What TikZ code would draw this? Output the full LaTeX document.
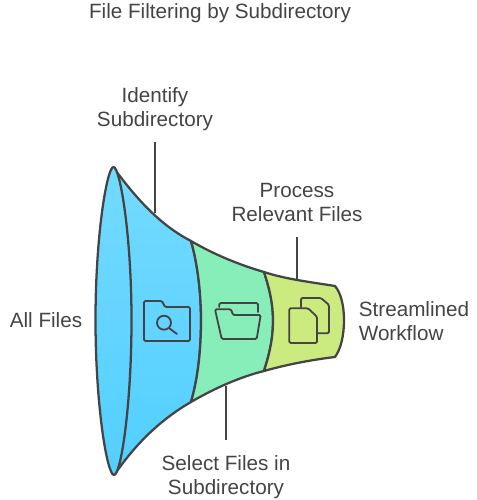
\documentclass[tikz,border=0pt]{standalone}
\usepackage{fontspec}
\setmainfont{Liberation Sans}
\definecolor{ink}{HTML}{444444}
\definecolor{blueT}{HTML}{74DAFF}
\definecolor{blueM}{HTML}{6CD7FF}
\definecolor{blueB}{HTML}{52CFFF}
\definecolor{mint}{HTML}{87EDB9}
\definecolor{lime}{HTML}{CBEA80}
\tikzset{
  outline/.style={draw=ink,line width=1.7pt,line join=round},
  funnelblue/.style={top color=blueT,middle color=blueM,bottom color=blueB},
  icon/.style={draw=ink,line width=1.35pt,line join=round,line cap=round,rounded corners=1pt},
  lbl/.style={text=ink,font=\fontsize{15.5pt}{18pt}\selectfont,align=center,inner sep=0pt},
  conn/.style={draw=ink,line width=1.5pt}
}
\begin{document}
\begin{tikzpicture}[x=0.75pt,y=-0.75pt]
\useasboundingbox (0,0) rectangle (476,500);
% body segments
\path[outline,funnelblue]
  (116,171) .. controls (137,199) and (160,225) .. (191,241)
  .. controls (198,265) and (201,295) .. (201,320)
  .. controls (201,350) and (198,378) .. (191,402)
  .. controls (160,420) and (137,443) .. (117,471) -- cycle;
\path[outline,fill=mint]
  (191,241) .. controls (215,255) and (240,265) .. (264,272)
  .. controls (270,290) and (273,305) .. (273,320)
  .. controls (273,338) and (270,352) .. (264,371)
  .. controls (240,377) and (215,388) .. (191,402)
  .. controls (198,378) and (201,350) .. (201,320)
  .. controls (201,295) and (198,265) .. (191,241) -- cycle;
\path[outline,fill=lime]
  (264,272) .. controls (285,279) and (310,282) .. (335,286)
  .. controls (341,293) and (344,306) .. (344,320)
  .. controls (344,335) and (341,349) .. (335,357)
  .. controls (310,360) and (285,365) .. (264,371)
  .. controls (270,352) and (273,338) .. (273,320)
  .. controls (273,305) and (270,290) .. (264,272) -- cycle;
% mouth
\path[outline,funnelblue]
  (113.5,167) .. controls (107,167) and (95.5,235) .. (95.5,320)
  .. controls (95.5,405) and (107,475) .. (114,475)
  .. controls (121,475) and (131.5,405) .. (131.5,320)
  .. controls (131.5,235) and (120,167) .. (113.5,167) -- cycle;
% icon: folder with magnifier
\draw[icon] (144,341) -- (144,301) -- (162,301) -- (165,307) -- (190,307) -- (190,341) -- cycle;
\draw[icon] (164,322.7) circle (7);
\draw[icon] (169,328) -- (177,334);
% icon: open folder
\draw[icon] (219.3,307) -- (219.3,303) -- (258,303) -- (258,312);
\draw[icon] (215,309.3) -- (231,309.3) -- (233,315) -- (260.7,315) -- (256.7,339) -- (221.7,339) -- cycle;
% icon: two documents
\draw[icon] (301,307) -- (301,298) -- (321,298) -- (329,305) -- (329,333.3) -- (317.7,333.3);
\draw[icon] (289.3,343) -- (289.3,308.3) -- (308,308.3) -- (317,316.7) -- (317,343) -- cycle;
% labels
\node[lbl] (title) at (220,13.5) {File Filtering by Subdirectory};
\node[lbl] (identify) at (155,109.5) {Identify\\Subdirectory};
\node[lbl] (process) at (297,202) {Process\\Relevant Files};
\node[lbl] (select) at (226,477) {Select Files in\\Subdirectory};
\node[lbl] (all) at (46,320) {All Files};
\node[lbl,align=left] (stream) at (414,321) {Streamlined\\Workflow};
% connectors
\coordinate (a1) at (155,142);
\coordinate (a2) at (155,213);
\coordinate (b1) at (297,237);
\coordinate (b2) at (297,279);
\coordinate (c1) at (226,386);
\coordinate (c2) at (226,440);
\draw[conn] (a1) -- (a2);
\draw[conn] (b1) -- (b2);
\draw[conn] (c1) -- (c2);
\end{tikzpicture}
\end{document}
